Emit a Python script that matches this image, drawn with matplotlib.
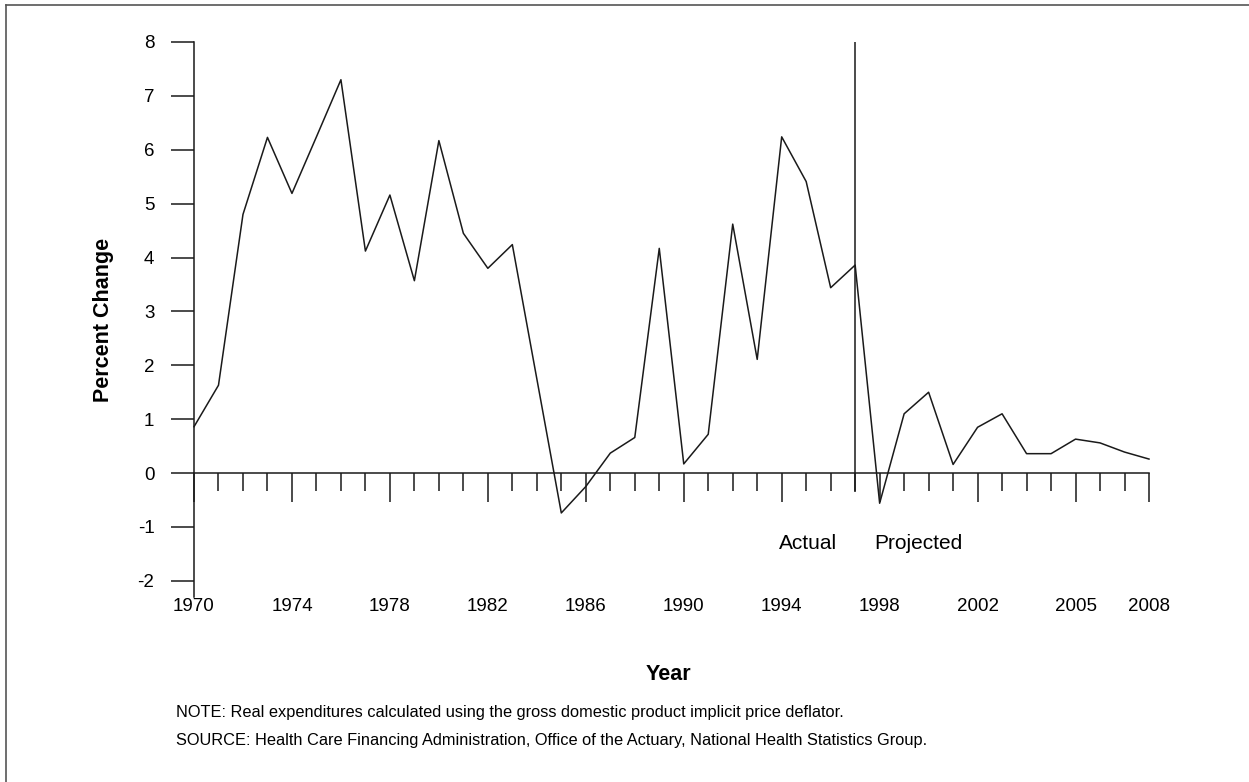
import numpy as np
import matplotlib
matplotlib.use("Agg")
import matplotlib.pyplot as plt
from matplotlib.lines import Line2D

plt.rcParams['font.family'] = ['Liberation Sans', 'DejaVu Sans']
plt.rcParams['axes.unicode_minus'] = False

# positions on the x axis, one per year plotted
years = np.arange(1970, 2010)
pct_change = [0.86, 1.63, 4.80, 6.23, 5.19, 6.24, 7.30, 4.12, 5.16, 3.57,
              6.17, 4.45, 3.80, 4.24, 1.75, -0.74, -0.25, 0.37, 0.66, 4.17,
              0.17, 0.72, 4.62, 2.11, 6.24, 5.41, 3.44, 3.86, -0.56, 1.10,
              1.50, 0.16, 0.85, 1.10, 0.36, 0.36, 0.63, 0.56, 0.39, 0.26]
last_actual = 1997

major_pos = [1970, 1974, 1978, 1982, 1986, 1990, 1994, 1998, 2002, 2006, 2009]
major_lab = ['1970', '1974', '1978', '1982', '1986', '1990', '1994', '1998',
             '2002', '2005', '2008']
y_ticks = list(range(-2, 9))

W, H = 1249, 782
fig = plt.figure(figsize=(W / 100, H / 100), dpi=100)
ax = fig.add_axes([194 / W, 1 - 597 / H, (1149 - 194) / W, (597 - 42) / H])
ax.set_xlim(1970, 2009)
ax.set_ylim(-2.3, 8)

lc = '#1a1a1a'
ax.plot(years, pct_change, color=lc, lw=1.1, clip_on=False)
ax.vlines(last_actual, -0.36, 8, color=lc, lw=1.1)

for s in ['top', 'right']:
    ax.spines[s].set_visible(False)
ax.spines['bottom'].set_position(('data', 0))
for s in ['left', 'bottom']:
    ax.spines[s].set_linewidth(1.1)
    ax.spines[s].set_color(lc)

ax.set_yticks(y_ticks)
ax.tick_params(axis='y', direction='out', length=16.5, width=1.1, color=lc,
               labelsize=13.5, pad=12)

ax.set_xticks(major_pos)
ax.set_xticklabels(major_lab)
ax.set_xticks([y for y in years if y not in major_pos], minor=True)
ax.tick_params(axis='x', which='major', direction='out', length=21, width=1.1,
               color=lc, labelsize=13.5, pad=69)
ax.tick_params(axis='x', which='minor', direction='out', length=13, width=1.1,
               color=lc)

ax.text(1996.25, -1.3, 'Actual', ha='right', va='center', fontsize=15)
ax.text(1997.8, -1.3, 'Projected', ha='left', va='center', fontsize=15)

fig.text(103 / W, 1 - 320 / H, 'Percent Change', rotation=90, ha='center',
         va='center', fontsize=15.5, fontweight='bold')
fig.text(668 / W, 1 - 674 / H, 'Year', ha='center', va='center', fontsize=15.5,
         fontweight='bold')
fig.text(176 / W, 1 - 712 / H,
         'NOTE: Real expenditures calculated using the gross domestic product implicit price deflator.',
         ha='left', va='center', fontsize=11.8)
fig.text(176 / W, 1 - 741 / H,
         'SOURCE: Health Care Financing Administration, Office of the Actuary, National Health Statistics Group.',
         ha='left', va='center', fontsize=11.8)

# frame round the figure
fig.add_artist(Line2D([6 / W, 1], [1 - 5 / H, 1 - 5 / H], color='#555555', lw=1.2))
fig.add_artist(Line2D([6 / W, 6 / W], [0, 1 - 5 / H], color='#555555', lw=1.2))

fig.savefig('out.png', dpi=100)
